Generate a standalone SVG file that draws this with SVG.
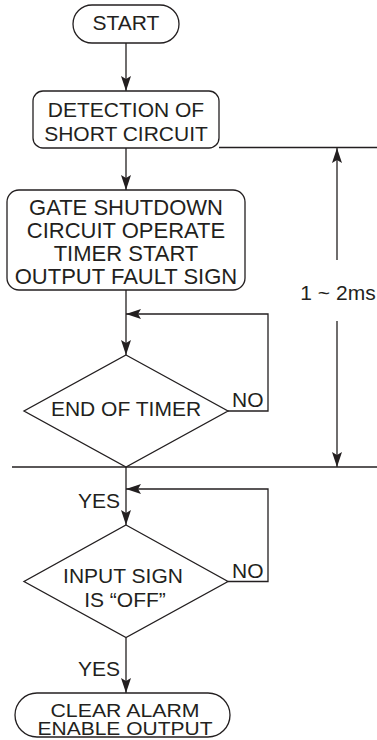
<svg xmlns="http://www.w3.org/2000/svg" width="377" height="740" viewBox="0 0 377 740">
<defs>
<marker id="ah" markerWidth="16" markerHeight="12" viewBox="-16 -6 16 12" refX="0" refY="0" orient="auto" markerUnits="userSpaceOnUse">
<path d="M0,0 L-15,-5 L-12,0 L-15,5 Z" fill="#231f20"/>
</marker>
</defs>
<style>
.shape{fill:#fff;stroke:#231f20;stroke-width:1.3}
.ln{fill:none;stroke:#231f20;stroke-width:1.3}
.arr{fill:none;stroke:#231f20;stroke-width:1.3;marker-end:url(#ah)}
text{font-family:"Liberation Sans",Arial,sans-serif;font-size:21px;fill:#231f20}
.c{text-anchor:middle}
.r{text-anchor:end}
.sq{font-size:18px}
</style>
<rect width="377" height="740" fill="#fff"/>
<g id="connectors">
<line class="arr" x1="126" y1="43" x2="126" y2="91"/>
<line class="arr" x1="126" y1="148" x2="126" y2="190"/>
<line class="arr" x1="126" y1="290" x2="126" y2="355"/>
<polyline class="arr" points="228,411 268,411 268,314 126,314"/>
<line class="arr" x1="126" y1="467" x2="126" y2="525"/>
<polyline class="arr" points="228,581.5 268,581.5 268,489 126,489"/>
<line class="arr" x1="126" y1="637.5" x2="126" y2="693"/>
<line class="ln" x1="219" y1="147.5" x2="377" y2="147.5"/>
<line class="ln" x1="12" y1="467" x2="377" y2="467"/>
<line class="arr" x1="337" y1="260" x2="337" y2="148"/>
<line class="arr" x1="337" y1="321" x2="337" y2="467"/>
<text x="338" y="300" class="c">1 ~ 2ms</text>
<text x="232" y="406.5">NO</text>
<text x="232" y="578">NO</text>
<text x="120" y="507.5" class="r">YES</text>
<text x="120" y="676" class="r">YES</text>
</g>
<g id="start">
<rect class="shape" x="73" y="5" width="106" height="38" rx="19"/>
<text x="126" y="30" class="c">START</text>
</g>
<g id="detection">
<rect class="shape" x="33" y="91" width="186" height="57" rx="10"/>
<text x="126" y="117" class="c">DETECTION OF</text>
<text x="126" y="141" class="c">SHORT CIRCUIT</text>
</g>
<g id="gate">
<rect class="shape" x="7" y="190" width="238" height="100" rx="12"/>
<text x="126" y="215" class="c" style="font-size:22px">GATE SHUTDOWN</text>
<text x="126" y="238" class="c" style="font-size:22px">CIRCUIT OPERATE</text>
<text x="126" y="261" class="c" style="font-size:22px">TIMER START</text>
<text x="126" y="284" class="c" style="font-size:22px">OUTPUT FAULT SIGN</text>
</g>
<g id="endtimer">
<polygon class="shape" points="126,355 228,411 126,467 24,411"/>
<text x="126" y="416" class="c">END OF TIMER</text>
</g>
<g id="inputsign">
<polygon class="shape" points="126,525 228,581.5 126,637.5 24,581.5"/>
<text x="123" y="583" class="c">INPUT SIGN</text>
<text x="125" y="607" class="c">IS “OFF”</text>
</g>
<g id="clear">
<rect class="shape" x="15" y="693" width="215" height="44" rx="22"/>
<text x="125" y="716.5" class="c sq" textLength="149" lengthAdjust="spacingAndGlyphs">CLEAR ALARM</text>
<text x="125" y="735" class="c sq" textLength="175" lengthAdjust="spacingAndGlyphs">ENABLE OUTPUT</text>
</g>
</svg>
